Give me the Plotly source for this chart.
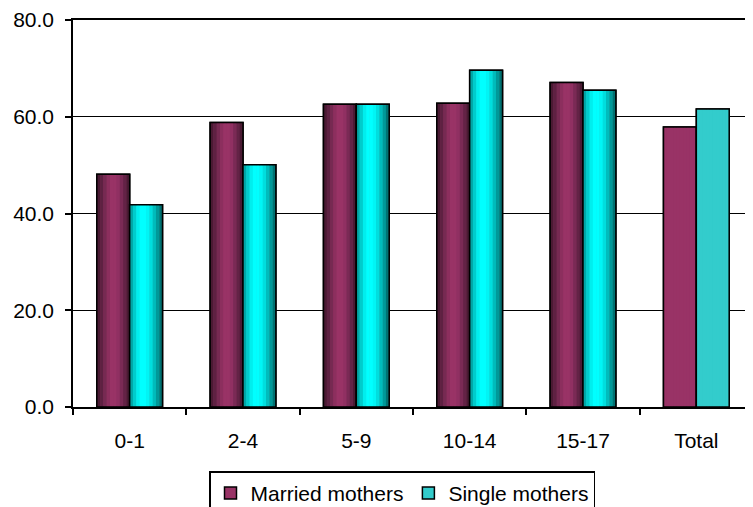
import plotly.graph_objects as go

categories = ["0-1", "2-4", "5-9", "10-14", "15-17", "Total"]
married = [48.1, 58.8, 62.6, 62.8, 67.1, 57.9]
single = [41.8, 50.1, 62.6, 69.6, 65.5, 61.6]
y_ticks = [0, 20, 40, 60, 80]

# shading profiles (left -> right) for the cylinder-like bars
married_shades = ["#4a1a33", "#5e2142", "#762a52", "#8c2f5e", "#993366", "#993366",
                  "#903062", "#7a2a55", "#632346", "#4a1a33"]
single_shades = ["#00a6a6", "#00cccc", "#00eeee", "#00ffff", "#00ffff", "#00f5f5",
                 "#00dede", "#00bcbc", "#009999", "#007272"]
married_flat = "#993366"
single_flat = "#33cccc"

BW = 0.29
N = len(married_shades)
font = dict(family="Liberation Sans, Arial, sans-serif", size=21, color="black")

fig = go.Figure()

def add_series(name, vals, shades, flat, off0):
    # base (legend) trace
    fig.add_trace(go.Bar(x=categories, y=vals, name=name, width=BW, offset=off0,
                         marker=dict(color=flat, line=dict(color="black", width=1.5)),
                         showlegend=True, hoverinfo="skip"))
    for i, c in enumerate(shades):
        cols = [c] * (len(categories) - 1) + [flat]
        fig.add_trace(go.Bar(x=categories, y=vals, width=BW / N + 0.002,
                             offset=off0 + i * BW / N,
                             marker=dict(color=cols, line=dict(width=0)),
                             showlegend=False, hoverinfo="skip"))
    fig.add_trace(go.Bar(x=categories, y=vals, width=BW, offset=off0,
                         marker=dict(color="rgba(0,0,0,0)", line=dict(color="black", width=1.5)),
                         showlegend=False, hoverinfo="skip"))

add_series("Married mothers", married, married_shades, married_flat, -BW)
add_series("Single mothers", single, single_shades, single_flat, 0.0)

fig.update_layout(
    width=745, height=499,
    barmode="overlay",
    paper_bgcolor="white", plot_bgcolor="white",
    margin=dict(l=65, r=0, t=12, b=100, autoexpand=False),
    font=font,
    legend=dict(orientation="h", x=0.200, xanchor="left", y=-0.166, yanchor="top",
                bordercolor="black", borderwidth=1.5, font=font,
                itemwidth=30, tracegroupgap=0),
    xaxis=dict(type="category", range=[-0.5, 5.5], showline=True, linecolor="black",
               linewidth=1.5, mirror=True, ticks="outside", tickson="boundaries",
               ticklen=6, tickcolor="black", tickwidth=1.5, showgrid=False,
               ticklabelstandoff=14, tickfont=font, automargin=False),
    yaxis=dict(range=[0, 80], tickvals=y_ticks, tickformat=".1f", showline=True,
               linecolor="black", linewidth=1.5, ticks="outside", ticklen=6,
               tickcolor="black", tickwidth=1.5, showgrid=True, gridcolor="black",
               gridwidth=1.2, zeroline=False, ticklabelstandoff=7, tickfont=font,
               automargin=False),
)

fig.write_html("out.html")
